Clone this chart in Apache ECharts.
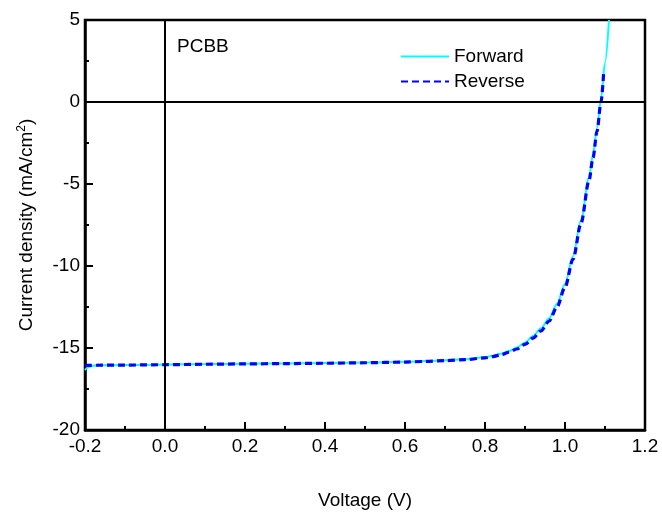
<!DOCTYPE html>
<html>
<head>
<meta charset="utf-8">
<script src="https://cdn.jsdelivr.net/npm/echarts@6/dist/echarts.min.js"></script>
<style>
  html, body { margin: 0; padding: 0; background: #fff; }
  #jv { width: 662px; height: 515px; }
</style>
</head>
<body>
<div id="jv"></div>
<script>
// J-V curve data
var vForward = [-0.2, -0.195, -0.19, -0.18, -0.17, -0.15, -0.1, -0.05, 0, 0.1, 0.2, 0.3, 0.4, 0.5, 0.6, 0.65, 0.7, 0.75, 0.8, 0.82, 0.84, 0.86, 0.88, 0.9, 0.92, 0.94, 0.96, 0.98, 1.0, 1.02, 1.04, 1.06, 1.07, 1.08, 1.09, 1.1, 1.11];
var jForward = [-16.35, -16.22, -16.14, -16.08, -16.06, -16.05, -16.04, -16.03, -16.01, -15.98, -15.96, -15.94, -15.92, -15.89, -15.84, -15.8, -15.75, -15.69, -15.56, -15.47, -15.35, -15.19, -14.97, -14.67, -14.27, -13.8, -13.2, -12.3, -11.1, -9.4, -7.2, -4.6, -3.2, -1.6, 0.2, 2.4, 5.0];

var vReverse = [-0.2, -0.1, 0, 0.1, 0.2, 0.3, 0.4, 0.5, 0.6, 0.65, 0.7, 0.75, 0.8, 0.82, 0.84, 0.86, 0.88, 0.9, 0.92, 0.94, 0.96, 0.98, 1.0, 1.02, 1.04, 1.06, 1.07, 1.08, 1.09, 1.097];
var jReverse = [-16.06, -16.04, -16.02, -15.99, -15.97, -15.95, -15.93, -15.9, -15.86, -15.82, -15.77, -15.71, -15.6, -15.52, -15.41, -15.26, -15.06, -14.78, -14.4, -13.95, -13.37, -12.5, -11.3, -9.6, -7.4, -4.8, -3.4, -1.8, 0.0, 1.9];

var seriesNames = ['Forward', 'Reverse'];
var xRange = [-0.2, 1.2], xStep = 0.2;
var yRange = [-20, 5], yStep = 5;

function pairs(xs, ys) {
  var out = [];
  for (var i = 0; i < xs.length; i++) out.push([xs[i], ys[i]]);
  return out;
}

var chart = echarts.init(document.getElementById('jv'));
var font = 'Liberation Sans, Arial, sans-serif';
var fs = 19;

var option = {
  backgroundColor: '#fff',
  animation: false,
  textStyle: { fontFamily: font, color: '#000' },
  title: {
    text: 'PCBB',
    left: 172, top: 32,
    textStyle: { fontFamily: font, fontSize: fs, fontWeight: 'normal', color: '#000' }
  },
  legend: {
    orient: 'vertical',
    left: 395, top: 42,
    itemWidth: 48, itemHeight: 14, itemGap: 6,
    itemStyle: { opacity: 0 },
    textStyle: { fontFamily: font, fontSize: fs, color: '#000' },
    data: seriesNames
  },
  grid: {
    left: 85, right: 17, top: 20, bottom: 84,
    show: true, borderColor: '#000', borderWidth: 2.5
  },
  xAxis: {
    type: 'value',
    min: xRange[0], max: xRange[1], interval: xStep,
    name: 'Voltage (V)', nameLocation: 'middle', nameGap: 61,
    nameTextStyle: { fontFamily: font, fontSize: fs, color: '#000' },
    axisLine: { onZero: false, lineStyle: { color: '#000', width: 2.5 } },
    axisTick: { inside: true, length: 8, lineStyle: { color: '#000', width: 2 } },
    minorTick: { show: true, splitNumber: 2, length: 4, lineStyle: { color: '#000', width: 2 } },
    splitLine: { show: false },
    axisLabel: {
      fontFamily: font, fontSize: fs, color: '#000', margin: 7,
      formatter: function (v) { return v.toFixed(1); }
    }
  },
  yAxis: {
    type: 'value',
    min: yRange[0], max: yRange[1], interval: yStep,
    name: 'Current density (mA/cm{sup|2})', nameLocation: 'middle', nameGap: 47,
    nameTextStyle: {
      fontFamily: font, fontSize: fs, color: '#000',
      rich: { sup: { fontFamily: font, fontSize: 12, color: '#000', padding: [0, 0, 10, 0] } }
    },
    axisLine: { onZero: false, lineStyle: { color: '#000', width: 2.5 } },
    axisTick: { inside: true, length: 8, lineStyle: { color: '#000', width: 2 } },
    minorTick: { show: true, splitNumber: 2, length: 4, lineStyle: { color: '#000', width: 2 } },
    splitLine: { show: false },
    axisLabel: { fontFamily: font, fontSize: fs, color: '#000', margin: 5 }
  },
  series: [
    {
      name: seriesNames[0],
      type: 'line',
      data: pairs(vForward, jForward),
      smooth: 0.3, smoothMonotone: 'x',
      showSymbol: false, symbol: 'none',
      lineStyle: { color: '#00ffff', width: 2 },
      itemStyle: { color: '#00ffff' },
      z: 3,
      markLine: {
        silent: true, symbol: 'none', animation: false,
        label: { show: false },
        lineStyle: { color: '#000', width: 2, type: 'solid' },
        data: [{ xAxis: 0 }, { yAxis: 0 }]
      }
    },
    {
      name: seriesNames[1],
      type: 'line',
      data: pairs(vReverse, jReverse),
      smooth: 0.3, smoothMonotone: 'x',
      showSymbol: false, symbol: 'none',
      lineStyle: { color: '#0000ff', width: 3.2, type: [7, 4] },
      itemStyle: { color: '#0000ff' },
      z: 4
    }
  ]
};

chart.setOption(option);
</script>
</body>
</html>
